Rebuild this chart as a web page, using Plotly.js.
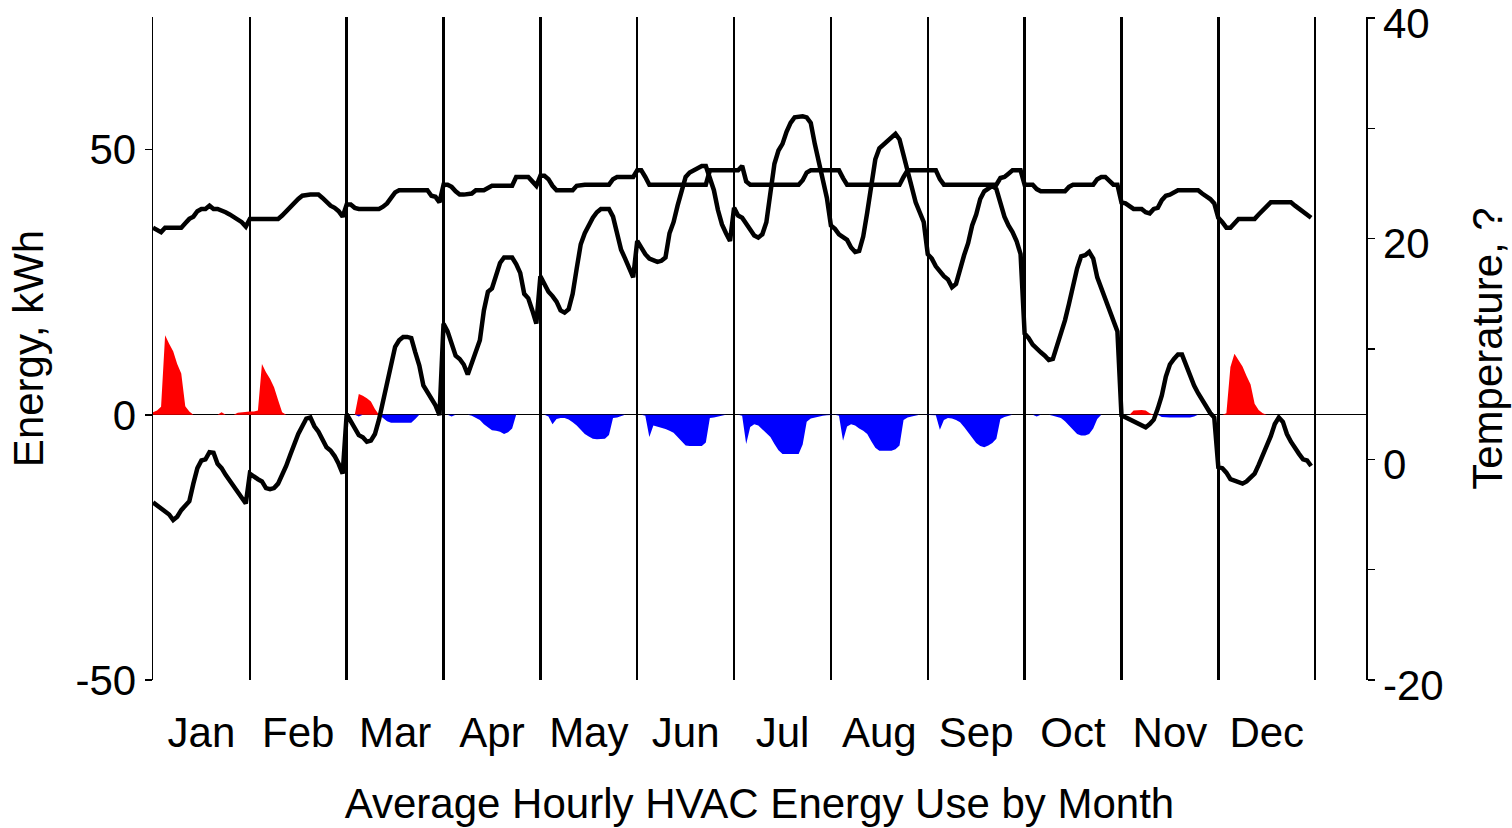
<!DOCTYPE html>
<html><head><meta charset="utf-8">
<script src="https://cdn.plot.ly/plotly-3.0.1.min.js"></script>
<style>html,body{margin:0;padding:0;background:#fff}#chart{width:1512px;height:828px}</style>
</head><body><div id="chart"></div>
<script>
const months = ['Jan','Feb','Mar','Apr','May','Jun','Jul','Aug','Sep','Oct','Nov','Dec'];

// Indoor temperature (°C), 24 hourly values per month
const indoorTemp = [
 [21.0,20.8,20.6,21.0,21.0,21.0,21.0,21.0,21.4,21.8,22.0,22.5,22.7,22.7,23.0,22.7,22.7,22.6,22.4,22.2,22.0,21.8,21.5,21.1],
 [21.8,21.8,21.8,21.8,21.8,21.8,21.8,21.8,22.1,22.5,22.9,23.3,23.6,23.9,24.0,24.0,24.0,24.0,23.7,23.3,23.0,22.8,22.5,22.0],
 [23.1,23.1,22.8,22.7,22.7,22.7,22.7,22.7,22.7,22.9,23.2,23.7,24.2,24.4,24.4,24.4,24.4,24.4,24.4,24.4,24.4,23.9,23.8,23.3],
 [24.9,24.9,24.7,24.3,24.0,24.0,24.0,24.1,24.4,24.4,24.4,24.6,24.8,24.8,24.8,24.8,24.8,24.8,25.6,25.6,25.6,25.6,25.2,24.8],
 [25.7,25.7,25.4,24.8,24.4,24.4,24.4,24.4,24.4,24.8,24.9,24.9,24.9,24.9,24.9,24.9,24.9,24.9,25.4,25.6,25.6,25.6,25.6,25.6],
 [26.2,26.2,25.6,24.9,24.9,24.9,24.9,24.9,24.9,24.9,24.9,24.9,24.9,24.9,24.9,24.9,24.9,24.9,26.2,26.2,26.2,26.2,26.2,26.2],
 [26.2,26.2,26.6,25.2,24.9,24.9,24.9,24.9,24.9,24.9,24.9,24.9,24.9,24.9,24.9,24.9,24.9,25.3,26.0,26.2,26.2,26.2,26.2,26.2],
 [26.2,26.2,26.2,25.5,24.9,24.9,24.9,24.9,24.9,24.9,24.9,24.9,24.9,24.9,24.9,24.9,24.9,24.9,25.6,26.2,26.2,26.2,26.2,26.2],
 [26.2,26.2,26.2,25.4,24.9,24.9,24.9,24.9,24.9,24.9,24.9,24.9,24.9,24.9,24.9,24.9,24.9,24.9,25.5,25.6,25.9,26.2,26.2,26.2],
 [24.9,24.9,24.9,24.5,24.3,24.3,24.3,24.3,24.3,24.3,24.3,24.7,24.9,24.9,24.9,24.9,24.9,24.9,25.4,25.6,25.6,25.2,24.9,24.9],
 [23.3,23.2,23.0,22.7,22.7,22.7,22.4,22.3,22.7,22.8,23.5,23.9,24.0,24.2,24.4,24.4,24.4,24.4,24.4,24.4,24.1,23.9,23.6,23.2],
 [21.9,21.5,21.0,21.0,21.4,21.8,21.8,21.8,21.8,21.8,22.2,22.6,23.0,23.3,23.3,23.3,23.3,23.3,23.3,23.0,22.7,22.5,22.2,21.9]
];

// Outdoor temperature (°C), 24 hourly values per month
const outdoorTemp = [
 [-3.9,-4.2,-4.5,-4.7,-5.0,-5.5,-5.2,-4.6,-4.2,-3.8,-2.2,-0.8,-0.1,0.0,0.65,0.6,-0.4,-0.8,-1.4,-1.9,-2.5,-3.0,-3.5,-4.0],
 [-1.3,-1.6,-1.8,-2.0,-2.6,-2.7,-2.6,-2.2,-1.5,-0.6,0.4,1.5,2.3,3.0,3.7,3.8,3.0,2.5,1.7,1.1,0.8,0.3,-0.4,-1.3],
 [4.1,3.4,2.8,2.2,2.0,1.6,1.7,2.3,3.6,5.3,7.2,8.8,10.2,10.8,11.1,11.1,11.0,9.7,8.5,6.7,6.1,5.6,4.9,4.0],
 [12.3,11.6,10.4,9.4,9.1,8.6,7.7,8.7,9.6,10.8,13.5,15.2,15.5,16.6,17.8,18.3,18.3,18.3,17.7,16.9,15.0,14.6,13.5,12.3],
 [16.6,15.8,15.2,14.8,14.3,13.5,13.3,13.6,15.0,17.3,19.5,20.5,21.3,21.9,22.4,22.7,22.7,22.7,22.0,20.3,19.0,18.2,17.3,16.5],
 [19.8,19.1,18.6,18.2,18.0,17.9,18.0,18.3,20.5,21.5,23.0,24.5,25.6,26.0,26.2,26.5,26.6,26.6,25.6,24.4,22.6,21.3,20.5,19.8],
 [22.8,22.1,21.9,21.4,20.8,20.3,20.1,20.4,21.5,24.0,26.8,28.0,28.6,29.7,30.5,31.0,31.1,31.1,31.0,30.5,28.6,27.0,25.0,23.7],
 [21.2,20.9,20.4,20.2,19.9,19.2,18.8,18.9,20.2,22.4,25.0,27.2,28.2,28.5,28.8,29.1,29.5,29.0,27.5,26.0,24.6,23.3,22.4,21.5],
 [18.6,18.2,17.5,17.0,16.6,16.3,15.6,15.9,17.3,18.5,19.6,21.2,22.2,23.6,24.3,24.6,24.8,24.5,23.3,22.0,21.2,20.6,19.8,18.6],
 [11.4,11.0,10.4,10.0,9.7,9.4,9.0,9.1,10.2,11.5,12.6,14.1,15.9,17.3,18.4,18.5,18.8,18.2,16.5,15.5,14.4,13.5,12.6,11.6],
 [4.0,3.8,3.6,3.4,3.3,3.1,2.9,3.2,3.6,4.6,5.8,7.5,8.6,9.1,9.5,9.5,8.5,7.6,6.7,6.0,5.4,4.8,4.2,3.8],
 [-0.7,-0.8,-1.2,-1.8,-1.9,-2.0,-2.2,-2.0,-1.7,-1.3,-0.5,0.3,1.2,2.1,3.2,3.8,3.4,2.3,1.6,1.0,0.5,0.0,-0.1,-0.6]
];

// Heating energy (kWh), 24 hourly values per month
const heatingEnergy = [
 [0.5,0.8,1.5,15.0,13.4,12.0,9.6,7.8,1.6,0.6,0,0,0,0,0,0,0,0.5,0,0,0,0.4,0.5,0.5],
 [0.6,0.6,0.8,9.6,8.0,6.8,5.2,2.8,0.5,0,0,0,0,0,0,0,0,0,0,0,0,0,0,0],
 [0,0,0,3.9,3.6,3.1,2.5,1.1,0,0,0,0,0,0,0,0,0,0,0,0,0,0,0,0],
 [0,0,0,0,0,0,0,0,0,0,0,0,0,0,0,0,0,0,0,0,0,0,0,0],
 [0,0,0,0,0,0,0,0,0,0,0,0,0,0,0,0,0,0,0,0,0,0,0,0],
 [0,0,0,0,0,0,0,0,0,0,0,0,0,0,0,0,0,0,0,0,0,0,0,0],
 [0,0,0,0,0,0,0,0,0,0,0,0,0,0,0,0,0,0,0,0,0,0,0,0],
 [0,0,0,0,0,0,0,0,0,0,0,0,0,0,0,0,0,0,0,0,0,0,0,0],
 [0,0,0,0,0,0,0,0,0,0,0,0,0,0,0,0,0,0,0,0,0,0,0,0],
 [0,0,0,0,0,0,0,0,0,0,0,0,0,0,0,0,0,0,0,0,0,0,0,0],
 [0,0,0,0.8,0.9,0.9,0.8,0.3,0,0,0,0,0,0,0,0,0,0,0,0,0,0,0,0],
 [0,0,0.3,9.0,11.5,10.3,9.1,7.3,5.7,2.1,0.9,0.3,0,0,0,0,0,0,0,0,0,0,0,0]
];

// Cooling energy (kWh, drawn negative), 24 hourly values per month
const coolingEnergy = [
 [0,0,0,0,0,0,0,0,0,0,0,0,0,0,0,0,0,0,0,0,0,0,0,0],
 [0,0,0,0,0,0,0,0,0,0,0,0,0,0,0,0,0,0,0,0,0,0,0,0],
 [0,0,0,-0.3,0,0,0,0,0,-0.6,-1.2,-1.5,-1.5,-1.5,-1.5,-1.5,-1.5,-0.8,0,0,0,0,0,0],
 [0,0,-0.3,0,0,0,0,-0.2,-0.6,-1.0,-1.8,-2.4,-2.9,-3.0,-3.2,-3.6,-3.3,-2.6,0,0,0,0,0,0],
 [0,0,-0.3,-1.8,-0.8,-0.6,-0.6,-0.9,-1.4,-2.0,-2.8,-3.6,-4.1,-4.5,-4.6,-4.6,-4.5,-3.8,-0.6,-0.5,-0.2,0,0,0],
 [0,0,-0.2,-4.2,-2.0,-2.2,-2.4,-2.7,-3.0,-3.4,-4.2,-5.0,-5.8,-5.9,-5.9,-5.9,-5.9,-5.2,-0.6,-0.5,-0.3,-0.2,0,0],
 [0,0,-0.2,-5.5,-2.3,-1.8,-2.0,-2.7,-3.4,-4.2,-5.5,-6.7,-7.4,-7.4,-7.4,-7.4,-7.4,-5.6,-1.3,-0.7,-0.5,-0.3,-0.2,-0.1],
 [0,0,-0.2,-4.9,-2.2,-1.8,-2.0,-2.6,-3.0,-3.6,-5.0,-6.2,-6.8,-6.8,-6.8,-6.8,-6.5,-5.8,-1.0,-0.5,-0.3,-0.1,0,0],
 [0,0,-0.1,-2.8,-1.0,-0.6,-0.7,-1.0,-1.4,-2.3,-3.3,-4.3,-5.3,-5.9,-6.1,-5.8,-5.3,-4.5,-0.8,-0.4,-0.2,0,0,0],
 [0,0,0,-0.3,0,0,0,-0.2,-0.4,-0.6,-1.2,-2.0,-2.7,-3.6,-3.9,-3.9,-3.6,-2.6,-0.8,0,0,0,0,0],
 [0,0,0,0,0,0,0,0,0,0,-0.4,-0.5,-0.5,-0.5,-0.5,-0.5,-0.5,-0.5,-0.3,0,0,0,0,0],
 [0,0,0,0,0,0,0,0,0,0,0,0,0,0,0,0,0,0,0,0,0,0,0,0]
];

const energyTicks = [-50, 0, 50];
const energyTickText = ['-50', '0', '50'];
const tempTicks = [-20, -10, 0, 10, 20, 30, 40];
const tempTickText = ['-20', '', '0', '', '20', '', '40'];

const hoursPerMonth = 24;
const hours = [];
for (let i = 0; i < months.length * hoursPerMonth; i++) hours.push(i);
const monthCenters = months.map((m, i) => i * hoursPerMonth + hoursPerMonth / 2);
const monthBounds = months.map((m, i) => i * hoursPerMonth).concat([months.length * hoursPerMonth]);

const FONT = 'Liberation Sans, Arial, sans-serif';
const FS = 42;

const traces = [
  {x: hours, y: heatingEnergy.flat(), type: 'scatter', mode: 'lines', fill: 'tozeroy',
   fillcolor: '#ff0000', line: {width: 0, color: '#ff0000'}, yaxis: 'y', hoverinfo: 'skip'},
  {x: hours, y: coolingEnergy.flat(), type: 'scatter', mode: 'lines', fill: 'tozeroy',
   fillcolor: '#0000ff', line: {width: 0, color: '#0000ff'}, yaxis: 'y', hoverinfo: 'skip'},
  {x: hours, y: indoorTemp.flat(), type: 'scatter', mode: 'lines',
   line: {color: '#000', width: 4.5}, yaxis: 'y2'},
  {x: hours, y: outdoorTemp.flat(), type: 'scatter', mode: 'lines',
   line: {color: '#000', width: 4.5}, yaxis: 'y2'}
];

const layout = {
  width: 1512, height: 828,
  margin: {l: 153, r: 146, t: 17, b: 148},
  showlegend: false,
  paper_bgcolor: '#fff', plot_bgcolor: '#fff',
  font: {family: FONT, size: FS, color: '#000'},
  xaxis: {
    range: [0, 300.6], tickmode: 'array', tickvals: monthCenters, ticktext: months,
    ticks: '', showgrid: false, zeroline: false, showline: false, ticklabelstandoff: 24,
    minor: {tickmode: 'array', tickvals: monthBounds, showgrid: true, gridcolor: '#000', gridwidth: 2.5, ticks: ''},
    title: {text: 'Average Hourly HVAC Energy Use by Month', font: {family: FONT, size: FS}, standoff: 33}
  },
  yaxis: {
    range: [-50, 75], tickmode: 'array', tickvals: energyTicks, ticktext: energyTickText,
    ticks: 'outside', ticklen: 7, tickwidth: 1.5, tickcolor: '#000',
    showline: true, linecolor: '#000', linewidth: 1.5, showgrid: false,
    zeroline: true, zerolinecolor: '#000', zerolinewidth: 1, ticklabeloverflow: 'allow',
    title: {text: 'Energy, kWh', font: {family: FONT, size: FS}, standoff: 18}
  },
  yaxis2: {
    overlaying: 'y', side: 'right', range: [-20, 40.1], tickmode: 'array',
    tickvals: tempTicks, ticktext: tempTickText,
    ticks: 'outside', ticklen: 7, tickwidth: 1.5, tickcolor: '#000',
    showline: true, linecolor: '#000', linewidth: 1.5, showgrid: false, zeroline: false,
    ticklabeloverflow: 'allow', ticklabelshift: 5,
    title: {text: 'Temperature, ?', font: {family: FONT, size: FS}, standoff: 30}
  }
};

Plotly.newPlot('chart', traces, layout, {staticPlot: true, displayModeBar: false});
</script>
</body></html>
